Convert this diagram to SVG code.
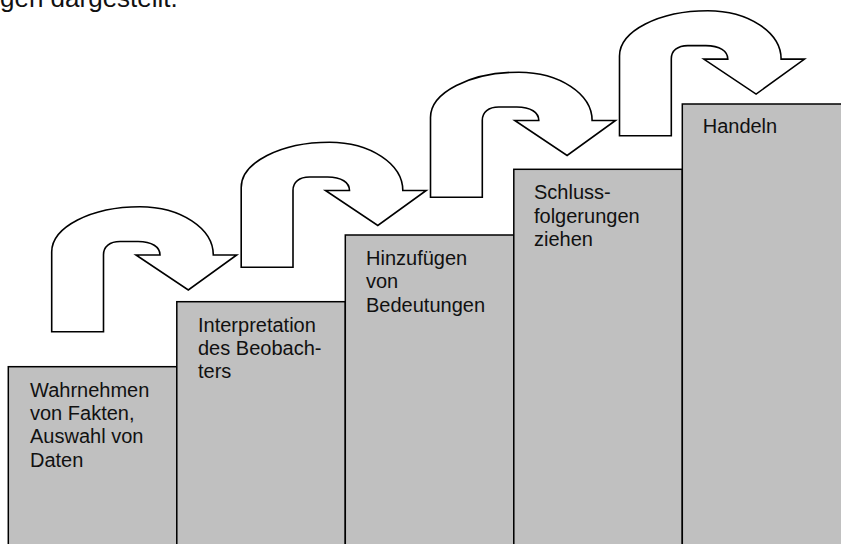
<svg xmlns="http://www.w3.org/2000/svg" width="841" height="544" viewBox="0 0 841 544">
  <style>
    .step { fill: #c0c0c0; stroke: #000; stroke-width: 1.5; }
    .turn { fill: #fff; stroke: #000; stroke-width: 1.6; stroke-linejoin: miter; }
    .lbl { font-family: "Liberation Sans", Arial, sans-serif; font-size: 20px; fill: #111; }
    .body { font-family: "Liberation Sans", Arial, sans-serif; font-size: 26px; fill: #111; }
  </style>
  <defs>
    <!-- U-turn arrow; origin at the bottom-left corner of the shaft -->
    <path id="uturn" d="M0,0 V-79.7 A88.3,45.3 0 0 1 88.3,-125 A73.3,48.3 0 0 1 161.6,-76.7 H185 L136.6,-41.7 L84.3,-76.7 H108.3 C108.3,-84.7 100.3,-90.2 86.3,-90.2 H68.3 C58,-90.2 51.8,-85 51.8,-77 V0 Z"/>
  </defs>

  <rect width="841" height="544" fill="#fff"/>

  <text class="body" x="0" y="7">gen dargestellt.</text>

  <!-- stair steps -->
  <g id="step1">
    <rect class="step" x="8.3" y="366.7" width="168.5" height="190"/>
    <text class="lbl" x="30" y="396.7">Wahrnehmen</text>
    <text class="lbl" x="30" y="420">von Fakten,</text>
    <text class="lbl" x="30" y="443.3">Auswahl von</text>
    <text class="lbl" x="30" y="466.7">Daten</text>
  </g>
  <g id="step2">
    <rect class="step" x="176.8" y="301.7" width="168.5" height="260"/>
    <text class="lbl" x="198" y="331.7">Interpretation</text>
    <text class="lbl" x="198" y="355">des Beobach-</text>
    <text class="lbl" x="198" y="378.3">ters</text>
  </g>
  <g id="step3">
    <rect class="step" x="345.3" y="235" width="168.5" height="320"/>
    <text class="lbl" x="366" y="265">Hinzufügen</text>
    <text class="lbl" x="366" y="288.3">von</text>
    <text class="lbl" x="366" y="311.6">Bedeutungen</text>
  </g>
  <g id="step4">
    <rect class="step" x="513.8" y="169.3" width="168.5" height="390"/>
    <text class="lbl" x="534" y="199.3">Schluss-</text>
    <text class="lbl" x="534" y="222.6">folgerungen</text>
    <text class="lbl" x="534" y="246">ziehen</text>
  </g>
  <g id="step5">
    <rect class="step" x="682.3" y="104" width="168.5" height="450"/>
    <text class="lbl" x="702.7" y="132.7">Handeln</text>
  </g>

  <!-- turning arrows between the steps -->
  <g id="connectors">
    <use href="#uturn" class="turn" transform="translate(51.7,331.7)"/>
    <use href="#uturn" class="turn" transform="translate(241.2,267.2)"/>
    <use href="#uturn" class="turn" transform="translate(430.5,197.2)"/>
    <use href="#uturn" class="turn" transform="translate(619.5,135.8)"/>
  </g>
</svg>
